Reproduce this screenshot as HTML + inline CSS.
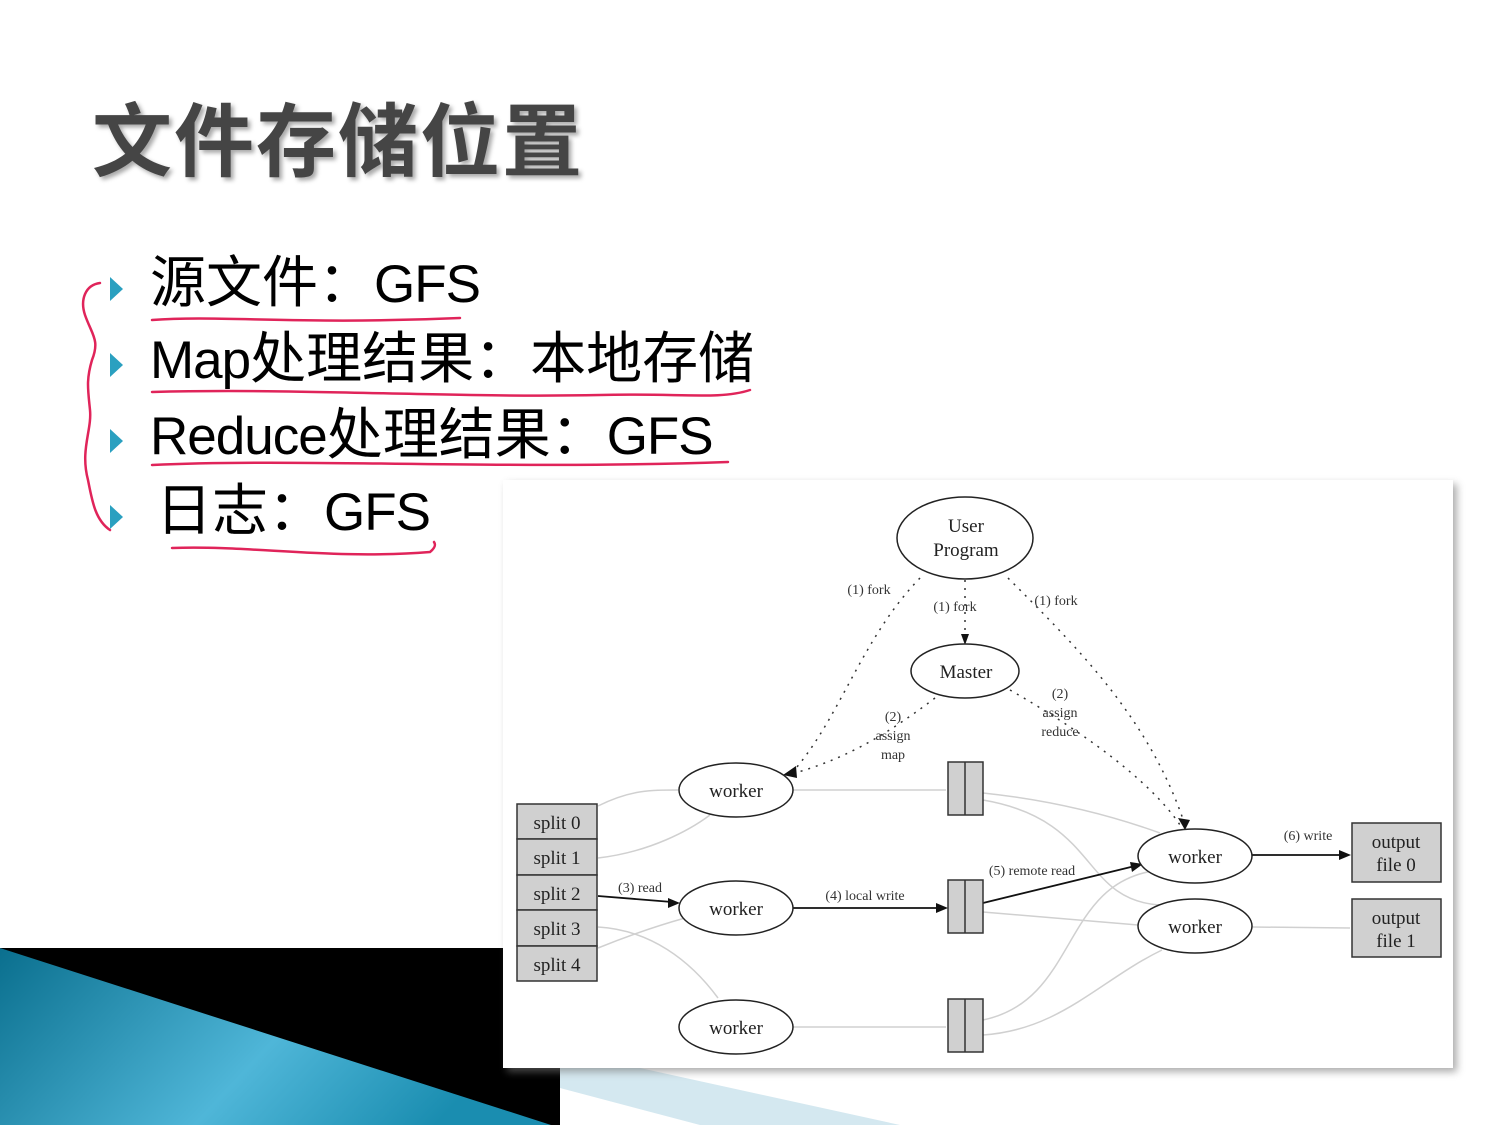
<!DOCTYPE html>
<html><head><meta charset="utf-8"><style>
html,body{margin:0;padding:0;background:#fff;}
body{width:1500px;height:1125px;position:relative;overflow:hidden;font-family:"Liberation Sans","Noto Sans CJK SC",sans-serif;}
.t{position:absolute;left:92px;top:78px;font-size:80px;font-weight:bold;color:#454545;letter-spacing:2px;text-shadow:3px 3px 4px #aaa;font-family:"Liberation Sans","Noto Sans CJK SC",sans-serif;}
.b{position:absolute;font-size:56px;color:#000;white-space:nowrap;line-height:1;}
.l{font-size:53px;letter-spacing:-1px;}
.tri{position:absolute;width:0;height:0;border-top:12px solid transparent;border-bottom:12px solid transparent;border-left:13px solid #2aa0c0;}
svg{position:absolute;left:0;top:0;}
</style></head><body>
<svg width="1500" height="1125">
<polygon points="0,948 560,948 560,1125 0,1125" fill="#000"/>
<defs><linearGradient id="g" x1="0" y1="0" x2="1" y2="0.3"><stop offset="0" stop-color="#0a6f8e"/><stop offset="0.6" stop-color="#4fb6d8"/><stop offset="1" stop-color="#1a8db0"/></linearGradient>
<filter id="s" x="-5%" y="-5%" width="110%" height="110%"><feGaussianBlur stdDeviation="4"/></filter></defs>
<polygon points="0,948 551,1125 0,1125" fill="url(#g)"/>
<polygon points="560,1068 640,1068 900,1125 700,1125 560,1088" fill="#d4e8f0"/>
<rect x="507" y="484" width="950" height="588" fill="#777" opacity="0.6" filter="url(#s)"/>
<rect x="503" y="480" width="950" height="588" fill="#fff"/>
<g font-family="Liberation Serif,serif" fill="#222">
<g fill="none" stroke="#d0d0d0" stroke-width="1.5">
<path d="M598,806 C630,790 650,790 678,790"/>
<path d="M598,858 C650,852 690,830 710,815"/>
<path d="M598,927 C650,930 690,960 718,998"/>
<path d="M598,948 C630,935 660,925 685,918"/>
<path d="M793,790 L946,790"/>
<path d="M793,1027 L946,1027"/>
<path d="M983,793 C1050,800 1110,815 1160,833"/>
<path d="M983,800 C1100,820 1080,900 1160,905"/>
<path d="M983,912 L1138,925"/>
<path d="M983,1020 C1080,1000 1060,880 1160,870"/>
<path d="M983,1035 C1060,1030 1100,980 1162,950"/>
<path d="M1252,927 L1350,928"/>
</g>
<g fill="none" stroke="#333" stroke-width="1.5" stroke-dasharray="2,6">
<path d="M920,578 C860,640 840,720 790,775"/>
<path d="M965,580 L965,640"/>
<path d="M1008,578 C1080,650 1150,720 1185,825"/>
<path d="M935,698 C880,740 840,760 795,773"/>
<path d="M1010,690 C1080,730 1150,780 1180,825"/>
</g>
<g fill="none" stroke="#111" stroke-width="1.8">
<path d="M598,896 L672,902"/><path d="M793,908 L940,908"/>
<path d="M983,903 L1135,866"/><path d="M1252,855 L1343,855"/>
</g>
<g fill="#111"><polygon points="680,903 668,898 668,908"/><polygon points="948,908 936,903 936,913"/><polygon points="1143,864 1130,862 1132,872"/><polygon points="1351,855 1339,850 1339,860"/><polygon points="965,645 961,634 969,634"/><polygon points="783,775 796,766 797,778"/><polygon points="1185,830 1178,818 1190,820"/></g>
<g fill="#ffffff" stroke="#222" stroke-width="1.5">
<ellipse cx="965" cy="538" rx="68" ry="41"/>
<ellipse cx="965" cy="671" rx="54" ry="27"/>
<ellipse cx="736" cy="790" rx="57" ry="27"/>
<ellipse cx="736" cy="908" rx="57" ry="27"/>
<ellipse cx="736" cy="1027" rx="57" ry="27"/>
<ellipse cx="1195" cy="856" rx="57" ry="27"/>
<ellipse cx="1195" cy="926" rx="57" ry="27"/>
</g>
<g fill="#d0d0d0" stroke="#333" stroke-width="1.5">
<rect x="517" y="804" width="80" height="35"/><rect x="517" y="839" width="80" height="36"/><rect x="517" y="875" width="80" height="35"/><rect x="517" y="910" width="80" height="36"/><rect x="517" y="946" width="80" height="35"/>
<rect x="948" y="762" width="35" height="53"/><rect x="948" y="880" width="35" height="53"/><rect x="948" y="999" width="35" height="53"/>
<rect x="1352" y="823" width="89" height="59"/><rect x="1352" y="899" width="89" height="58"/>
</g>
<g stroke="#333" stroke-width="1.5"><line x1="965" y1="762" x2="965" y2="815"/><line x1="965" y1="880" x2="965" y2="933"/><line x1="965" y1="999" x2="965" y2="1052"/></g>
<g font-size="19" text-anchor="middle">
<text x="966" y="532">User</text><text x="966" y="556">Program</text>
<text x="966" y="678">Master</text>
<text x="736" y="797">worker</text><text x="736" y="915">worker</text><text x="736" y="1034">worker</text>
<text x="1195" y="863">worker</text><text x="1195" y="933">worker</text>
<text x="557" y="829">split 0</text><text x="557" y="864">split 1</text><text x="557" y="900">split 2</text><text x="557" y="935">split 3</text><text x="557" y="971">split 4</text>
<text x="1396" y="848">output</text><text x="1396" y="871">file 0</text>
<text x="1396" y="924">output</text><text x="1396" y="947">file 1</text>
</g>
<g font-size="14" text-anchor="middle" fill="#333">
<text x="869" y="594">(1) fork</text><text x="955" y="611">(1) fork</text><text x="1056" y="605">(1) fork</text>
<text x="893" y="721">(2)</text><text x="893" y="740">assign</text><text x="893" y="759">map</text>
<text x="1060" y="698">(2)</text><text x="1060" y="717">assign</text><text x="1060" y="736">reduce</text>
<text x="640" y="892">(3) read</text><text x="865" y="900">(4) local write</text>
<text x="1032" y="875">(5) remote read</text><text x="1308" y="840">(6) write</text>
</g>
</g>
<g fill="none" stroke="#e0245a" stroke-width="2.5" stroke-linecap="round">
<path d="M100,283 C85,285 80,300 85,315 C92,335 100,340 92,360 C86,380 88,390 90,410 C92,430 80,450 88,480 C92,500 95,520 110,530"/>
<path d="M152,320 C220,315 300,325 460,318"/>
<path d="M152,392 C300,388 450,398 600,395 C680,393 720,400 750,390"/>
<path d="M152,465 C300,458 500,470 728,462"/>
<path d="M172,548 C250,545 330,560 430,552 C435,548 436,545 434,542"/>
</g>
</svg>
<div class="t">文件存储位置</div>
<div class="tri" style="left:110px;top:277px"></div>
<div class="tri" style="left:110px;top:353px"></div>
<div class="tri" style="left:110px;top:429px"></div>
<div class="tri" style="left:110px;top:505px"></div>
<div class="b" style="left:150px;top:255px">源文件：<span class="l">GFS</span></div>
<div class="b" style="left:150px;top:331px"><span class="l">Map</span>处理结果：本地存储</div>
<div class="b" style="left:150px;top:407px"><span class="l">Reduce</span>处理结果：<span class="l">GFS</span></div>
<div class="b" style="left:156px;top:483px">日志：<span class="l">GFS</span></div>
</body></html>
